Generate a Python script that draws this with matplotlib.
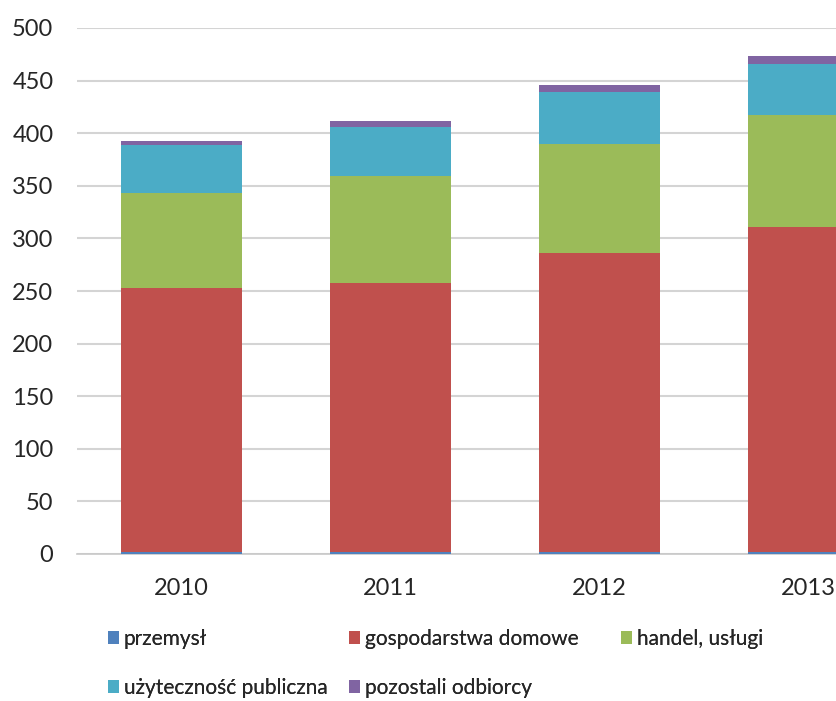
import matplotlib.pyplot as plt
import numpy as np

years = ['2010', '2011', '2012', '2013']
przemysl = [1.5, 1.5, 1.5, 1.5]
gospodarstwa = [251, 256, 285, 309.5]
handel = [91, 102, 103, 106]
uzytecznosc = [45, 46, 49.5, 49]
pozostali = [4, 6, 7, 7.5]

series = [
    ('przemysł', przemysl, '#4F81BD'),
    ('gospodarstwa domowe', gospodarstwa, '#C0504D'),
    ('handel, usługi', handel, '#9BBB59'),
    ('użyteczność publiczna', uzytecznosc, '#4BACC6'),
    ('pozostali odbiorcy', pozostali, '#8064A2'),
]

plt.rcParams['font.family'] = ['Lato', 'DejaVu Sans']

fig = plt.figure(figsize=(8.37, 7.01), dpi=100)
# plot area runs past the right edge of the picture (last bar is cut off)
ax = fig.add_axes([77 / 837, 1 - 554 / 701, 836 / 837, (554 - 28) / 701])

x = np.arange(len(years))
bottom = np.zeros(len(years))
handles = []
for name, vals, color in series:
    b = ax.bar(x, vals, width=0.575, bottom=bottom, color=color, label=name, zorder=3)
    handles.append(b)
    bottom += np.array(vals)

ax.set_ylim(0, 500)
ax.set_yticks(range(0, 501, 50))
ax.set_xlim(-0.5, 3.5)
ax.set_xticks(x)
ax.set_xticklabels(years)
ax.grid(axis='y', color='#D4D4D4', linewidth=1.5, zorder=0)
for s in ['left', 'right', 'top']:
    ax.spines[s].set_visible(False)
ax.spines['bottom'].set_color('#C8C8C8')
ax.spines['bottom'].set_linewidth(1.2)
ax.tick_params(axis='y', length=0, pad=17, labelsize=17, labelcolor='#262626')
ax.tick_params(axis='x', length=0, pad=17, labelsize=17, labelcolor='#262626')

# legend laid out like Excel: items flow row by row in fixed columns
columns = [([0, 3], 108), ([1, 4], 349), ([2], 621)]
for idx, xpos in columns:
    leg = fig.legend([handles[i] for i in idx], [series[i][0] for i in idx],
                     ncol=1, loc='upper left', bbox_to_anchor=(xpos / 837, 1 - 629 / 701),
                     frameon=False, fontsize=15, handlelength=0.55, handleheight=0.6,
                     handletextpad=0.2, labelspacing=1.4,
                     borderaxespad=0, borderpad=0, labelcolor='#262626')
    fig.add_artist(leg)

fig.savefig('out.png', dpi=100)
